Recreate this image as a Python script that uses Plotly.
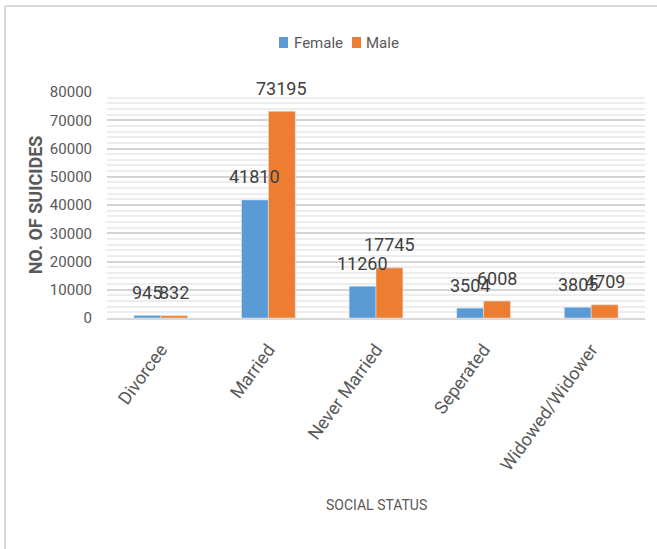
import plotly.graph_objects as go

# Suicides by social status, split by gender
statuses = ["Divorcee", "Married", "Never Married", "Seperated", "Widowed/Widower"]
female = [945, 41810, 11260, 3504, 3805]
male = [832, 73195, 17745, 6008, 4709]
series = [("Female", female), ("Male", male)]

y_ticks = [0, 10000, 20000, 30000, 40000, 50000, 60000, 70000, 80000]

BLUE = "#5B9BD5"
ORANGE = "#ED7D31"
COLORS = {"Female": BLUE, "Male": ORANGE}
FONT = "Roboto, Liberation Sans, sans-serif"
W, H = 657, 549
ML, MR, MT, MB = 107, 12, 92, 231
PW, PH = W - ML - MR, H - MT - MB


def px(x):
    """pixel column -> paper x"""
    return (x - ML) / PW


def py(y):
    """pixel row -> paper y"""
    return (H - MB - y) / PH


fig = go.Figure()
for name, vals in series:
    fig.add_bar(name=name, x=statuses, y=vals, marker_color=COLORS[name],
                showlegend=False)

annotations = []
# value labels above each bar
bar_half = 0.125
for i, (f, m) in enumerate(zip(female, male)):
    for val, dx in ((f, -bar_half), (m, bar_half)):
        annotations.append(dict(
            x=i + dx, y=val, xref="x", yref="y", text=str(val), showarrow=False,
            yanchor="middle", yshift=23,
            font=dict(family=FONT, size=18, color="#404040"),
        ))

# x-axis title
annotations.append(dict(
    x=0.5, y=py(505), xref="paper", yref="paper", text="SOCIAL STATUS",
    showarrow=False, xanchor="center", yanchor="middle",
    font=dict(family=FONT, size=14, color="#595959"),
))

# legend: colour key squares with their series names
shapes = []
legend_items = [("Female", 279, 292), ("Male", 352, 364)]
for name, sq_x, txt_x in legend_items:
    shapes.append(dict(type="rect", xref="paper", yref="paper",
                       x0=px(sq_x), x1=px(sq_x + 9), y0=py(48), y1=py(37),
                       fillcolor=COLORS[name], line=dict(width=0)))
    annotations.append(dict(
        x=px(txt_x), y=py(43), xref="paper", yref="paper", text=name,
        showarrow=False, xanchor="left", yanchor="middle",
        font=dict(family=FONT, size=15, color="#595959"),
    ))

# chart frame (top and left edges)
shapes += [
    dict(type="line", xref="paper", yref="paper",
         x0=px(5), x1=px(W + 5), y0=py(6), y1=py(6),
         line=dict(color="#D9D9D9", width=2)),
    dict(type="line", xref="paper", yref="paper",
         x0=px(5), x1=px(5), y0=py(6), y1=py(H + 5),
         line=dict(color="#D9D9D9", width=2)),
]

fig.update_layout(
    width=W, height=H,
    margin=dict(l=ML, r=MR, t=MT, b=MB, autoexpand=False),
    paper_bgcolor="white", plot_bgcolor="white",
    barmode="group", bargap=0.5, bargroupgap=0,
    showlegend=False,
    annotations=annotations,
    shapes=shapes,
)

fig.update_xaxes(
    range=[-0.5, len(statuses) - 0.5], autorange=False,
    showticklabels=True, tickangle=-54, ticklabelstandoff=12,
    tickfont=dict(family=FONT, size=18, color="#595959"),
    showline=True, linecolor="#D9D9D9", linewidth=2,
    ticks="", showgrid=False,
)
fig.update_yaxes(
    range=[0, 80000], tickvals=y_ticks, tickformat="d", ticks="",
    ticklabelstandoff=14,
    tickfont=dict(family=FONT, size=15, color="#595959"),
    showgrid=True, gridcolor="#D4D4D4", gridwidth=2,
    minor=dict(dtick=2000, showgrid=True, gridcolor="#EDEDED", gridwidth=2),
    zeroline=False, showline=False,
    title=dict(text="<b>NO. OF SUICIDES</b>", standoff=2,
               font=dict(family=FONT, size=18, color="#595959")),
)

fig.write_html("out.html")
